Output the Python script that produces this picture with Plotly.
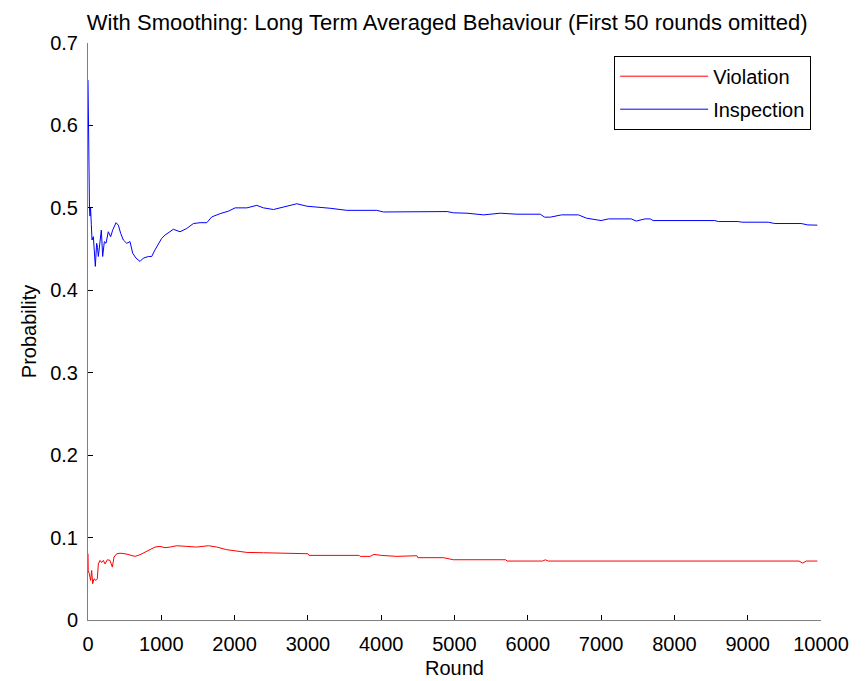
import plotly.graph_objects as go

# Inspection (blue) series: round, probability
insp_rounds = [0, 3, 6, 10, 15, 20, 27, 35, 45, 55, 73, 90, 100, 118, 130, 141, 164, 182, 200, 223,
               246, 277, 309, 337, 382, 414, 446, 482, 528, 573, 610, 655, 710, 755, 823, 869, 914, 960,
               1005, 1051, 1119, 1165, 1256, 1347, 1438, 1529, 1620, 1689, 1803, 1916, 2007, 2167, 2303,
               2393, 2530, 2666, 2849, 2986, 3122, 3213, 3304, 3531, 3940, 4030, 4490, 4580, 4900, 4986,
               5170, 5397, 5624, 5852, 6170, 6230, 6307, 6460, 6690, 6800, 7000, 7100, 7410, 7480, 7600,
               7670, 7710, 8550, 8600, 8870, 8920, 9280, 9370, 9730, 9820, 9950]
insp_values = [0.655, 0.62, 0.585, 0.566, 0.53, 0.500, 0.490, 0.500, 0.480, 0.461, 0.465, 0.445, 0.429,
               0.457, 0.452, 0.441, 0.461, 0.473, 0.441, 0.459, 0.457, 0.471, 0.465, 0.473, 0.482, 0.479,
               0.469, 0.461, 0.457, 0.459, 0.445, 0.439, 0.435, 0.439, 0.441, 0.441, 0.449, 0.457, 0.463,
               0.467, 0.471, 0.474, 0.471, 0.475, 0.481, 0.482, 0.482, 0.489, 0.493, 0.496, 0.500, 0.500,
               0.503, 0.500, 0.498, 0.501, 0.505, 0.502, 0.501, 0.500, 0.4995, 0.497, 0.497, 0.495, 0.495,
               0.4955, 0.4955, 0.494, 0.4935, 0.4915, 0.4935, 0.4923, 0.4923, 0.4887, 0.4887, 0.4915,
               0.4915, 0.4875, 0.4846, 0.4866, 0.4866, 0.484, 0.4866, 0.4866, 0.4846, 0.4846, 0.4834,
               0.4834, 0.4826, 0.4826, 0.481, 0.481, 0.4793, 0.479]

# Violation (red) series: round, probability
viol_rounds = [0, 3, 18, 36, 50, 64, 82, 109, 127, 141, 164, 186, 209, 232, 264, 300, 332, 355, 391, 437,
               505, 573, 642, 710, 778, 846, 914, 983, 1051, 1119, 1210, 1347, 1483, 1643, 1757, 1893,
               2030, 2167, 2394, 2622, 2700, 3000, 3014, 3700, 3713, 3850, 3900, 4000, 4213, 4400, 4487,
               4500, 4850, 4983, 5700, 5716, 6200, 6240, 6280, 9700, 9750, 9800, 9950]
viol_values = [0.0804, 0.060, 0.056, 0.048, 0.060, 0.044, 0.050, 0.048, 0.050, 0.068, 0.0723, 0.0697,
               0.0723, 0.068, 0.0731, 0.0723, 0.0642, 0.0763, 0.0804, 0.081, 0.0804, 0.0792, 0.0772,
               0.0792, 0.0824, 0.0853, 0.0885, 0.0893, 0.0877, 0.0885, 0.0901, 0.0893, 0.0885, 0.0901,
               0.0885, 0.0853, 0.0832, 0.082, 0.0816, 0.0812, 0.0804, 0.0804, 0.0784, 0.0784, 0.0772,
               0.0772, 0.0796, 0.0784, 0.0772, 0.0772, 0.078, 0.0756, 0.0756, 0.0731, 0.0731, 0.0715,
               0.0715, 0.073, 0.0715, 0.0715, 0.069, 0.0715, 0.0715]

x_ticks = [0, 1000, 2000, 3000, 4000, 5000, 6000, 7000, 8000, 9000, 10000]
y_ticks = [0, 0.1, 0.2, 0.3, 0.4, 0.5, 0.6, 0.7]
y_tick_labels = ["0", "0.1", "0.2", "0.3", "0.4", "0.5", "0.6", "0.7"]

FONT = "Liberation Sans, Arial, sans-serif"

fig = go.Figure()
fig.add_trace(go.Scatter(x=viol_rounds, y=viol_values, mode="lines", name="Violation",
                         legendgroup="viol", line=dict(color="#ff0000", width=1)))
fig.add_trace(go.Scatter(x=insp_rounds, y=insp_values, mode="lines", name="Inspection",
                         legendgroup="insp", line=dict(color="#0000ff", width=1)))

fig.update_layout(
    width=865, height=681,
    margin=dict(l=88, r=44, t=43, b=61),
    paper_bgcolor="white", plot_bgcolor="white",
    font=dict(family=FONT, size=20, color="black"),
    title=dict(text="With Smoothing: Long Term Averaged Behaviour (First 50 rounds omitted)",
               xref="container", x=0.517, xanchor="center", y=0.979, yanchor="top",
               font=dict(family=FONT, size=22, color="black")),
    showlegend=True,
    legend=dict(x=0.9866, xanchor="right", y=0.978, yanchor="top",
                bgcolor="white", bordercolor="black", borderwidth=1,
                font=dict(family=FONT, size=20, color="black"),
                tracegroupgap=4, itemwidth=88),
)
fig.update_xaxes(
    range=[0, 10000], tickvals=x_ticks, ticktext=[str(v) for v in x_ticks],
    showgrid=False, zeroline=False, showline=True, linecolor="#808080", linewidth=1,
    ticks="inside", ticklen=5, tickcolor="black", ticklabelstandoff=6, automargin=False,
    title=dict(text="Round", font=dict(family=FONT, size=20), standoff=6),
    tickfont=dict(family=FONT, size=20),
)
fig.update_yaxes(
    range=[0, 0.7], tickvals=y_ticks, ticktext=y_tick_labels,
    showgrid=False, zeroline=False, showline=True, linecolor="#808080", linewidth=1,
    ticks="inside", ticklen=5, tickcolor="black", ticklabelstandoff=5, automargin=False,
    title=dict(text="Probability", font=dict(family=FONT, size=20), standoff=8),
    tickfont=dict(family=FONT, size=20),
)

fig.write_html("out.html")
